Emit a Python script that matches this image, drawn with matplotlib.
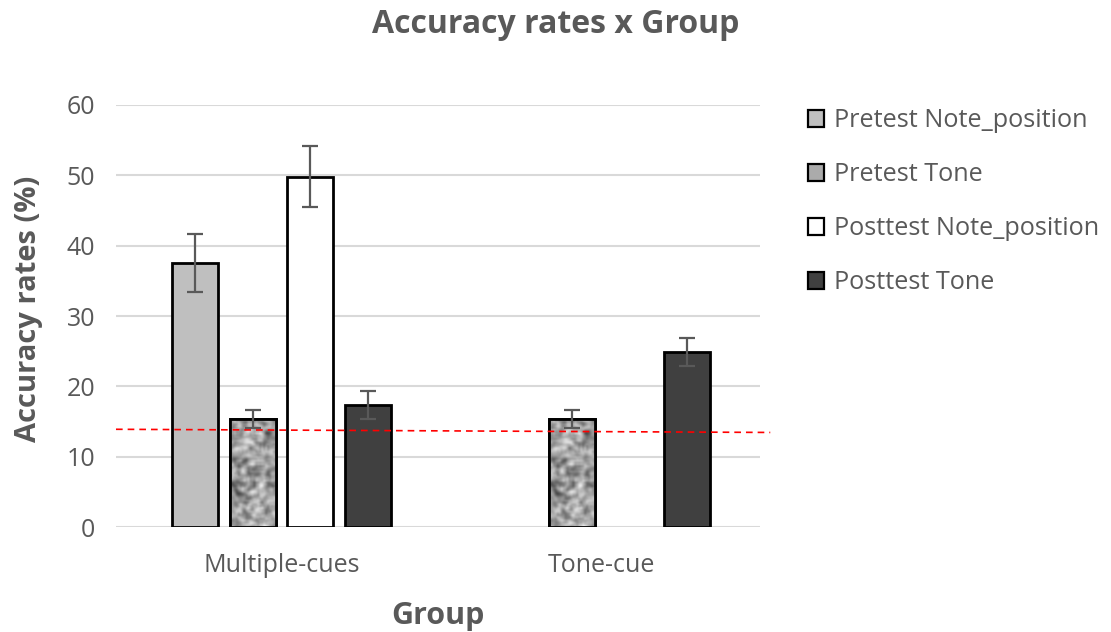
import numpy as np
import matplotlib
matplotlib.use("Agg")
import matplotlib.pyplot as plt

plt.rcParams['font.family'] = ['Open Sans', 'DejaVu Sans']

groups = ["Multiple-cues", "Tone-cue"]
series = ["Pretest Note_position", "Pretest Tone", "Posttest Note_position", "Posttest Tone"]
values = {
    "Pretest Note_position": [37.5, np.nan],
    "Pretest Tone": [15.4, 15.4],
    "Posttest Note_position": [49.8, np.nan],
    "Posttest Tone": [17.4, 24.9],
}
errors = {
    "Pretest Note_position": [4.1, np.nan],
    "Pretest Tone": [1.3, 1.3],
    "Posttest Note_position": [4.3, np.nan],
    "Posttest Tone": [2.0, 2.0],
}
chance_x = [-0.518, 1.53]
chance_y = [13.9, 13.45]

colors = {
    "Pretest Note_position": "#bfbfbf",
    "Pretest Tone": "#ababab",
    "Posttest Note_position": "#ffffff",
    "Posttest Tone": "#404040",
}
txt = "#595959"

fig = plt.figure(figsize=(11.11, 6.32), dpi=100)
ax = fig.add_axes([0.1044, 0.166, 0.5797, 0.668])

x = np.arange(len(groups))
w = 0.144
step = 0.18
offsets = (np.arange(len(series)) - 1.5) * step

# decorative granite-like texture for Pretest Tone bars
rng = np.random.default_rng(7)
noise = rng.random((60, 24))
k = np.ones((3, 3)) / 9.0
pad = np.pad(noise, 1, mode='wrap')
sm = np.zeros_like(noise)
for i in range(3):
    for j in range(3):
        sm += pad[i:i + noise.shape[0], j:j + noise.shape[1]] * k[i, j]
sm = (sm - sm.min()) / (sm.max() - sm.min())

for si, s in enumerate(series):
    vals = np.array(values[s], dtype=float)
    errs = np.array(errors[s], dtype=float)
    bars = ax.bar(x + offsets[si], vals, width=w, color=colors[s], edgecolor="black",
                  linewidth=2.0, label=s, zorder=3)
    ax.errorbar(x + offsets[si], vals, yerr=errs, fmt='none', ecolor=txt,
                elinewidth=1.6, capsize=6, capthick=1.6, zorder=5)
    if s == "Pretest Tone":
        for b in bars:
            if np.isnan(b.get_height()):
                continue
            im = ax.imshow(sm, cmap='gray', vmin=-0.35, vmax=1.05, aspect='auto',
                           extent=[b.get_x(), b.get_x() + b.get_width(), 0, b.get_height()],
                           zorder=3.5, interpolation='bicubic')
            im.set_clip_path(b)
            edge = plt.Rectangle((b.get_x(), 0), b.get_width(), b.get_height(),
                                 fill=False, edgecolor='black', linewidth=2.0, zorder=3.6)
            ax.add_patch(edge)

ax.plot(chance_x, chance_y, color="#ff0000", linestyle=(0, (4, 3)), linewidth=1.2,
        zorder=4.5, clip_on=False)

ax.set_xlim(-0.518, 1.498)
ax.set_ylim(0, 60)
ax.set_yticks(np.arange(0, 61, 10))
ax.set_xticks(x)
ax.set_xticklabels(groups)
ax.grid(axis='y', color="#d9d9d9", linewidth=1.5, zorder=0)
ax.set_axisbelow(True)
for sp in ax.spines.values():
    sp.set_visible(False)
ax.tick_params(axis='both', length=0, colors=txt, labelsize=18)
ax.tick_params(axis='y', pad=15)
ax.tick_params(axis='x', pad=19)

ax.set_ylabel("Accuracy rates (%)", fontsize=21, fontweight='bold', color=txt)
ax.yaxis.set_label_coords(-0.114, 0.518)
ax.set_xlabel("Group", fontsize=22, fontweight='bold', color=txt, labelpad=16)
fig.text(0.5, 0.962, "Accuracy rates x Group", ha='center', va='center',
         fontsize=23, fontweight='bold', color=txt)

leg = fig.legend(loc='upper left', bbox_to_anchor=(0.727, 0.829), frameon=False,
                 borderpad=0, borderaxespad=0,
                 fontsize=18.2, handlelength=0.64, handleheight=0.64, handletextpad=0.42,
                 labelspacing=1.15, labelcolor=txt)
for h in leg.legend_handles:
    h.set_linewidth(1.6)

fig.savefig("out.png", dpi=100)
